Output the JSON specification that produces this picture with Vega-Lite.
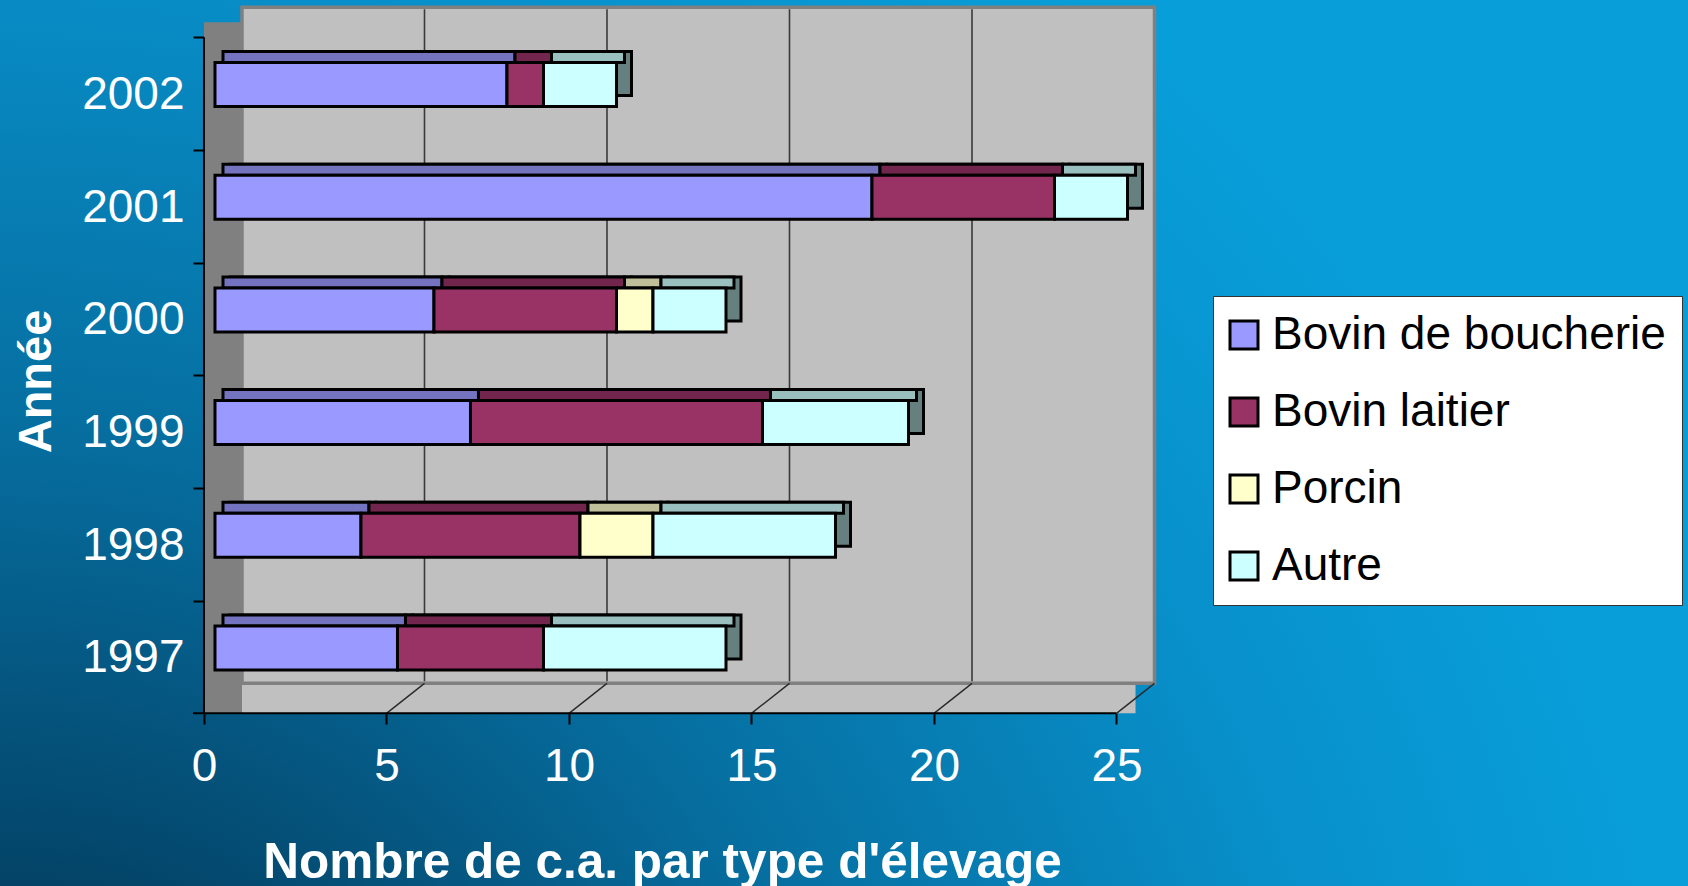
{
  "$schema": "https://vega.github.io/schema/vega-lite/v6.json",
  "width": 1688,
  "height": 886,
  "autosize": {"type": "none"},
  "padding": 0,
  "background": "#0a8cc8",
  "config": {
    "view": {
      "stroke": null,
      "fill": {
        "gradient": "radial",
        "x1": 0, "y1": 1, "r1": 0,
        "x2": 0, "y2": 1, "r2": 1,
        "stops": [
          {"offset": 0, "color": "#011f3c"},
          {"offset": 0.2, "color": "#033d5f"},
          {"offset": 0.5, "color": "#066d9e"},
          {"offset": 0.8, "color": "#0890cb"},
          {"offset": 1, "color": "#089ed9"}
        ]
      }
    },
    "font": "Liberation Sans"
  },
  "datasets": {
    "eleveurs": [
      {"annee": 2002, "type": "Bovin de boucherie", "nombre": 8},
      {"annee": 2002, "type": "Bovin laitier", "nombre": 1},
      {"annee": 2002, "type": "Autre", "nombre": 2},
      {"annee": 2001, "type": "Bovin de boucherie", "nombre": 18},
      {"annee": 2001, "type": "Bovin laitier", "nombre": 5},
      {"annee": 2001, "type": "Autre", "nombre": 2},
      {"annee": 2000, "type": "Bovin de boucherie", "nombre": 6},
      {"annee": 2000, "type": "Bovin laitier", "nombre": 5},
      {"annee": 2000, "type": "Porcin", "nombre": 1},
      {"annee": 2000, "type": "Autre", "nombre": 2},
      {"annee": 1999, "type": "Bovin de boucherie", "nombre": 7},
      {"annee": 1999, "type": "Bovin laitier", "nombre": 8},
      {"annee": 1999, "type": "Autre", "nombre": 4},
      {"annee": 1998, "type": "Bovin de boucherie", "nombre": 4},
      {"annee": 1998, "type": "Bovin laitier", "nombre": 6},
      {"annee": 1998, "type": "Porcin", "nombre": 2},
      {"annee": 1998, "type": "Autre", "nombre": 5},
      {"annee": 1997, "type": "Bovin de boucherie", "nombre": 5},
      {"annee": 1997, "type": "Bovin laitier", "nombre": 4},
      {"annee": 1997, "type": "Autre", "nombre": 5}
    ],
    "murs": [{"v": 5}, {"v": 10}, {"v": 15}, {"v": 20}],
    "sol": [{"v": 5}, {"v": 10}, {"v": 15}, {"v": 20}, {"v": 25}],
    "cadre": [{"id": 1}]
  },
  "resolve": {"scale": {"color": "independent"}},
  "layer": [
    {
      "data": {"name": "cadre"},
      "mark": {"type": "rect", "fill": "#c0c0c0", "xOffset": 8, "x2Offset": 8, "yOffset": -21, "y2Offset": 9},
      "encoding": {
        "x": {"datum": 0, "type": "quantitative", "scale": {"type": "linear", "domain": [-5.89, 40.356], "nice": false, "zero": false, "padding": 0}},
        "x2": {"datum": 25},
        "y": {"datum": 1996.5, "type": "quantitative", "scale": {"type": "linear", "domain": [1994.888, 2002.7498], "nice": false, "zero": false, "padding": 0}},
        "y2": {"datum": 1996.5}
      }
    },
    {
      "data": {"name": "cadre"},
      "mark": {"type": "rect", "fill": "#808080", "xOffset": -11, "x2Offset": 27, "yOffset": -6, "y2Offset": 9},
      "encoding": {
        "x": {"datum": 0, "type": "quantitative", "scale": {"type": "linear", "domain": [-5.89, 40.356], "nice": false, "zero": false, "padding": 0}},
        "x2": {"datum": 0},
        "y": {"datum": 2002.5, "type": "quantitative", "scale": {"type": "linear", "domain": [1994.888, 2002.7498], "nice": false, "zero": false, "padding": 0}},
        "y2": {"datum": 1996.5}
      }
    },
    {
      "data": {"name": "cadre"},
      "mark": {"type": "rect", "fill": "#c0c0c0", "stroke": "#808080", "strokeWidth": 3.5, "xOffset": 27, "x2Offset": 27, "yOffset": -21, "y2Offset": -21},
      "encoding": {
        "x": {"datum": 0, "type": "quantitative", "scale": {"type": "linear", "domain": [-5.89, 40.356], "nice": false, "zero": false, "padding": 0}},
        "x2": {"datum": 25},
        "y": {"datum": 2002.5, "type": "quantitative", "scale": {"type": "linear", "domain": [1994.888, 2002.7498], "nice": false, "zero": false, "padding": 0}},
        "y2": {"datum": 1996.5}
      }
    },
    {
      "data": {"name": "murs"},
      "mark": {"type": "rule", "color": "#3a3a3a", "strokeWidth": 1.6, "xOffset": 27, "yOffset": -19, "y2Offset": -23},
      "encoding": {
        "x": {"field": "v", "type": "quantitative", "scale": {"type": "linear", "domain": [-5.89, 40.356], "nice": false, "zero": false, "padding": 0}},
        "y": {"datum": 2002.5, "type": "quantitative", "scale": {"type": "linear", "domain": [1994.888, 2002.7498], "nice": false, "zero": false, "padding": 0}},
        "y2": {"datum": 1996.5}
      }
    },
    {
      "data": {"name": "sol"},
      "mark": {"type": "rule", "color": "#2a2a2a", "strokeWidth": 1.4, "xOffset": -11, "x2Offset": 27, "yOffset": 9, "y2Offset": -21},
      "encoding": {
        "x": {"field": "v", "type": "quantitative", "scale": {"type": "linear", "domain": [-5.89, 40.356], "nice": false, "zero": false, "padding": 0}},
        "x2": {"field": "v"},
        "y": {"datum": 1996.5, "type": "quantitative", "scale": {"type": "linear", "domain": [1994.888, 2002.7498], "nice": false, "zero": false, "padding": 0}},
        "y2": {"datum": 1996.5}
      }
    },
    {
      "data": {"name": "cadre"},
      "mark": {"type": "rule", "color": "#000000", "strokeWidth": 2, "xOffset": -22, "x2Offset": -11, "yOffset": 9},
      "encoding": {
        "x": {"datum": 0, "type": "quantitative", "scale": {"type": "linear", "domain": [-5.89, 40.356], "nice": false, "zero": false, "padding": 0}},
        "x2": {"datum": 25},
        "y": {"datum": 1996.5, "type": "quantitative", "scale": {"type": "linear", "domain": [1994.888, 2002.7498], "nice": false, "zero": false, "padding": 0}}
      }
    },
    {
      "data": {"name": "cadre"},
      "mark": {"type": "rule", "color": "#000000", "strokeWidth": 2, "xOffset": -11, "yOffset": 9, "y2Offset": 9},
      "encoding": {
        "x": {"datum": 0, "type": "quantitative", "scale": {"type": "linear", "domain": [-5.89, 40.356], "nice": false, "zero": false, "padding": 0}},
        "y": {"datum": 2002.5, "type": "quantitative", "scale": {"type": "linear", "domain": [1994.888, 2002.7498], "nice": false, "zero": false, "padding": 0}},
        "y2": {"datum": 1996.5}
      }
    },
    {
      "data": {"name": "eleveurs"},
      "transform": [{"calculate": "indexof(['Bovin de boucherie', 'Bovin laitier', 'Porcin', 'Autre'], datum.type)", "as": "rang"}],
      "mark": {"type": "bar", "orient": "horizontal", "size": 44, "xOffset": 15, "x2Offset": 15, "yOffset": -11, "stroke": "#000000", "strokeWidth": 3, "strokeJoin": "miter"},
      "encoding": {
        "x": {"field": "nombre", "type": "quantitative", "stack": "zero", "scale": {"type": "linear", "domain": [-5.89, 40.356], "nice": false, "zero": false, "padding": 0}},
        "y": {"field": "annee", "type": "quantitative", "scale": {"type": "linear", "domain": [1994.888, 2002.7498], "nice": false, "zero": false, "padding": 0}},
        "order": {"field": "rang", "type": "quantitative"},
        "color": {
          "field": "type", "type": "nominal",
          "sort": ["Bovin de boucherie", "Bovin laitier", "Porcin", "Autre"],
          "scale": {"domain": ["Bovin de boucherie", "Bovin laitier", "Porcin", "Autre"], "range": ["#4d4d80", "#4d1a33", "#808066", "#668080"]},
          "legend": null
        }
      }
    },
    {
      "data": {"name": "eleveurs"},
      "transform": [{"calculate": "indexof(['Bovin de boucherie', 'Bovin laitier', 'Porcin', 'Autre'], datum.type)", "as": "rang"}],
      "mark": {"type": "bar", "orient": "horizontal", "size": 11, "xOffset": 8, "x2Offset": 8, "yOffset": -27.5, "stroke": "#000000", "strokeWidth": 3, "strokeJoin": "miter"},
      "encoding": {
        "x": {"field": "nombre", "type": "quantitative", "stack": "zero", "scale": {"type": "linear", "domain": [-5.89, 40.356], "nice": false, "zero": false, "padding": 0}},
        "y": {"field": "annee", "type": "quantitative", "scale": {"type": "linear", "domain": [1994.888, 2002.7498], "nice": false, "zero": false, "padding": 0}},
        "order": {"field": "rang", "type": "quantitative"},
        "color": {
          "field": "type", "type": "nominal",
          "sort": ["Bovin de boucherie", "Bovin laitier", "Porcin", "Autre"],
          "scale": {"domain": ["Bovin de boucherie", "Bovin laitier", "Porcin", "Autre"], "range": ["#7373bf", "#73264d", "#bfbf99", "#99bfbf"]},
          "legend": null
        }
      }
    },
    {
      "data": {"name": "eleveurs"},
      "transform": [{"calculate": "indexof(['Bovin de boucherie', 'Bovin laitier', 'Porcin', 'Autre'], datum.type)", "as": "rang"}],
      "mark": {"type": "bar", "orient": "horizontal", "size": 44, "stroke": "#000000", "strokeWidth": 3, "strokeJoin": "miter"},
      "encoding": {
        "x": {
          "field": "nombre", "type": "quantitative", "stack": "zero",
          "scale": {"type": "linear", "domain": [-5.89, 40.356], "nice": false, "zero": false, "padding": 0},
          "axis": {
            "values": [0, 5, 10, 15, 20, 25],
            "offset": -173,
            "domain": false,
            "grid": false,
            "ticks": true,
            "tickSize": 11,
            "tickWidth": 2,
            "tickColor": "#000000",
            "tickOffset": -11,
            "labelOffset": 0,
            "labelPadding": 20,
            "labelFont": "Liberation Sans",
            "labelFontSize": 46,
            "labelColor": "#ffffff",
            "labelFlush": false,
            "labelOverlap": false,
            "title": "Nombre de c.a. par type d'élevage",
            "titleFont": "Liberation Sans",
            "titleFontSize": 49.5,
            "titleFontWeight": "bold",
            "titleColor": "#ffffff",
            "titleX": 662,
            "titleY": 164,
            "titleAlign": "center",
            "titleBaseline": "alphabetic"
          }
        },
        "y": {
          "field": "annee", "type": "quantitative",
          "scale": {"type": "linear", "domain": [1994.888, 2002.7498], "nice": false, "zero": false, "padding": 0},
          "axis": {
            "values": [1997, 1998, 1999, 2000, 2001, 2002],
            "format": "d",
            "offset": -204,
            "domain": false,
            "grid": false,
            "ticks": true,
            "tickSize": 11,
            "tickWidth": 2,
            "tickColor": "#000000",
            "tickOffset": -47.35,
            "labelOffset": 57.35,
            "labelPadding": 9,
            "labelFont": "Liberation Sans",
            "labelFontSize": 46,
            "labelColor": "#ffffff",
            "labelFlush": false,
            "labelOverlap": false,
            "title": "Année",
            "titleFont": "Liberation Sans",
            "titleFontSize": 47,
            "titleFontWeight": "bold",
            "titleColor": "#ffffff",
            "titleAngle": -90,
            "titleX": -154,
            "titleY": 381,
            "titleAlign": "center",
            "titleBaseline": "alphabetic"
          }
        },
        "order": {"field": "rang", "type": "quantitative"},
        "color": {
          "field": "type", "type": "nominal",
          "sort": ["Bovin de boucherie", "Bovin laitier", "Porcin", "Autre"],
          "scale": {"domain": ["Bovin de boucherie", "Bovin laitier", "Porcin", "Autre"], "range": ["#9999ff", "#993366", "#ffffcc", "#ccffff"]},
          "legend": {
            "orient": "none",
            "legendX": 1213,
            "legendY": 296,
            "title": null,
            "fillColor": "#ffffff",
            "strokeColor": "#333333",
            "padding": 16,
            "rowPadding": 31,
            "symbolType": "square",
            "symbolSize": 784,
            "symbolOffset": -8,
            "symbolStrokeColor": "#000000",
            "symbolStrokeWidth": 3,
            "symbolOpacity": 1,
            "labelFont": "Liberation Sans",
            "labelFontSize": 46,
            "labelColor": "#000000",
            "labelOffset": 5,
            "labelLimit": 600
          }
        }
      }
    }
  ]
}
